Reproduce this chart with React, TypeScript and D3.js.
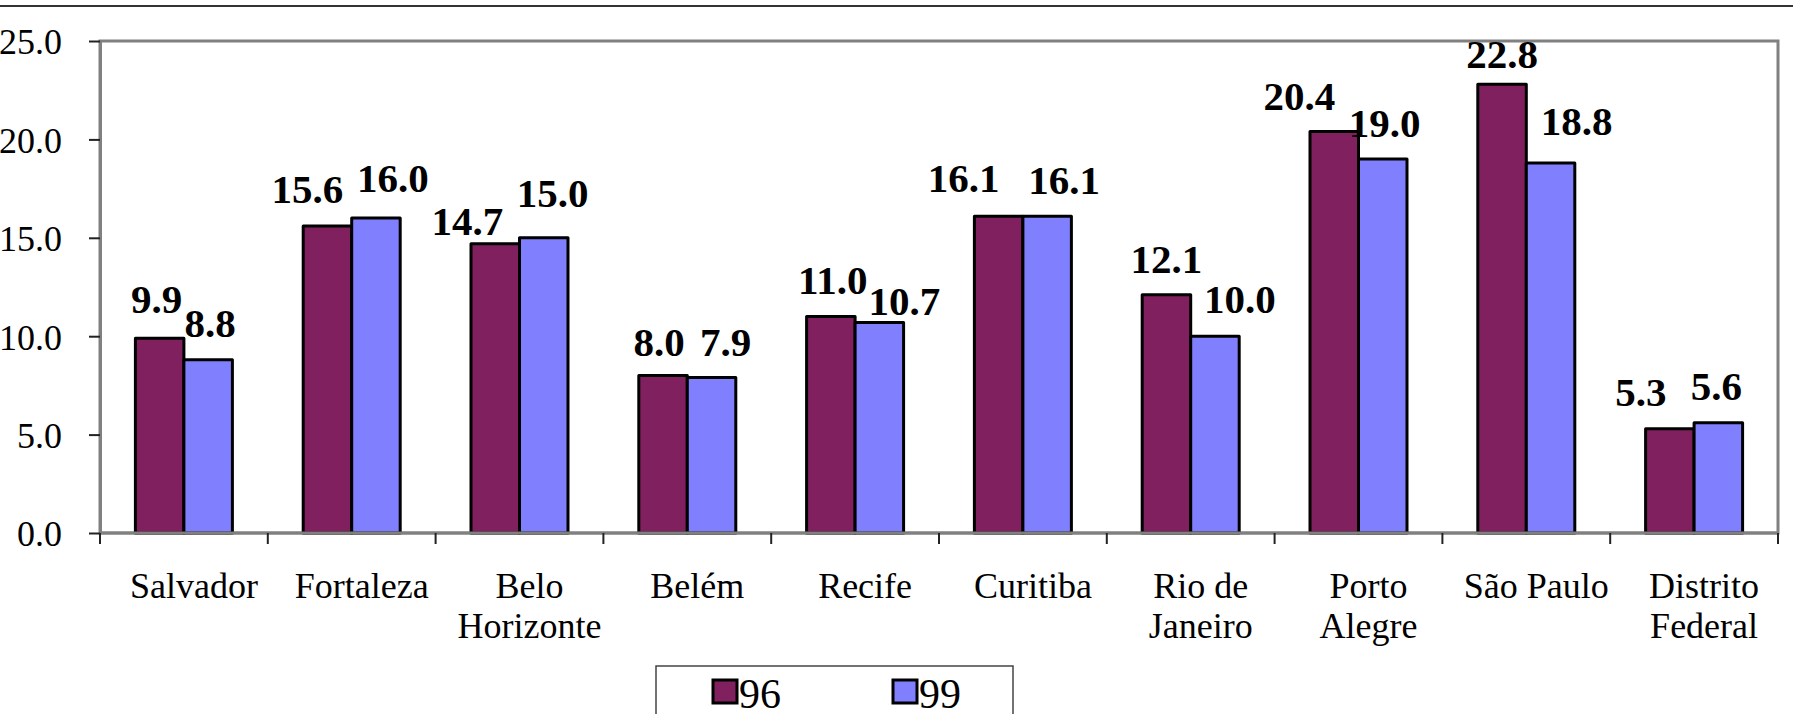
import React, { useRef, useEffect } from 'react';
import * as d3 from 'd3';

// categories (line breaks in labels marked with \n)
const cities = [
  'Salvador',
  'Fortaleza',
  'Belo\nHorizonte',
  'Belém',
  'Recife',
  'Curitiba',
  'Rio de\nJaneiro',
  'Porto\nAlegre',
  'São Paulo',
  'Distrito\nFederal',
];
const seriesNames = ['96', '99'];
const values96 = [9.9, 15.6, 14.7, 8.0, 11.0, 16.1, 12.1, 20.4, 22.8, 5.3];
const values99 = [8.8, 16.0, 15.0, 7.9, 10.7, 16.1, 10.0, 19.0, 18.8, 5.6];
const yTicks = [0, 5, 10, 15, 20, 25];

// hand placed data labels in the original (px shift from bar centre, px above bar top)
const labelDx96 = [-3, -20, -28, -4, 2, -35, 0, -35, 0, -29];
const labelGap96 = [25, 23, 9, 20, 23, 24, 22, 22, 16, 23];
const labelDx99 = [2, 17, 9, 14, 25, 17, 25, 2, 26, -2];
const labelGap99 = [23, 26, 31, 22, 7, 22, 23, 22, 28, 23];

const WIDTH = 1793;
const HEIGHT = 714;
const FONT = '"Liberation Serif", "Times New Roman", serif';
const COLORS = ['#80205F', '#8080FF'];

export default function App() {
  const svgRef = useRef<SVGSVGElement>(null);

  useEffect(() => {
    if (!svgRef.current) return;
    const svg = d3.select(svgRef.current);
    svg.selectAll('*').remove();

    const margin = { top: 41, right: 15, bottom: 181, left: 100 };
    const plotW = WIDTH - margin.left - margin.right;
    const plotH = HEIGHT - margin.top - margin.bottom;

    const x = d3.scaleBand().domain(cities).range([0, plotW]).padding(0);
    const xs = d3
      .scaleBand()
      .domain(seriesNames)
      .range([0, x.bandwidth()])
      .paddingInner(0)
      .paddingOuter(0.73);
    const y = d3.scaleLinear().domain([0, 25]).range([plotH, 0]);

    // rule across the top of the page
    svg
      .append('line')
      .attr('x1', 0)
      .attr('x2', WIDTH)
      .attr('y1', 6)
      .attr('y2', 6)
      .attr('stroke', '#333')
      .attr('stroke-width', 2);

    const g = svg.append('g').attr('transform', `translate(${margin.left},${margin.top})`);

    // plot area border
    g.append('rect')
      .attr('x', 0)
      .attr('y', 0)
      .attr('width', plotW)
      .attr('height', plotH)
      .attr('fill', 'white')
      .attr('stroke', '#808080')
      .attr('stroke-width', 3);

    const series = [values96, values99];
    const dxs = [labelDx96, labelDx99];
    const gaps = [labelGap96, labelGap99];

    series.forEach((vals, si) => {
      const name = seriesNames[si];
      g.append('g')
        .selectAll('rect')
        .data(vals)
        .enter()
        .append('rect')
        .attr('x', (d, i) => (x(cities[i]) || 0) + (xs(name) || 0))
        .attr('y', d => y(d))
        .attr('width', xs.bandwidth())
        .attr('height', d => plotH - y(d))
        .attr('fill', COLORS[si])
        .attr('stroke', '#000')
        .attr('stroke-width', 3)
        .attr('stroke-linejoin', 'round');
    });

    // y axis
    const yAxis = g
      .append('g')
      .call(
        d3
          .axisLeft(y)
          .tickValues(yTicks)
          .tickFormat(d3.format('.1f'))
          .tickSize(11)
          .tickSizeOuter(0)
          .tickPadding(27)
      );
    yAxis.select('.domain').attr('stroke', '#808080').attr('stroke-width', 3);
    yAxis.selectAll('.tick line').attr('stroke', '#222').attr('stroke-width', 2);
    yAxis
      .selectAll('.tick text')
      .attr('font-family', FONT)
      .attr('font-size', 36)
      .attr('fill', '#000')
      .attr('dy', '0.36em');

    // x axis line and boundary ticks
    g.append('line')
      .attr('x1', 0)
      .attr('x2', plotW)
      .attr('y1', plotH)
      .attr('y2', plotH)
      .attr('stroke', '#808080')
      .attr('stroke-width', 3);

    const bounds = [...cities.map(c => x(c) || 0), plotW];
    g.append('g')
      .selectAll('line')
      .data(bounds)
      .enter()
      .append('line')
      .attr('x1', d => d)
      .attr('x2', d => d)
      .attr('y1', plotH)
      .attr('y2', plotH + 11)
      .attr('stroke', '#222')
      .attr('stroke-width', 2);

    // category labels
    const catLabels = g
      .append('g')
      .selectAll('text')
      .data(cities)
      .enter()
      .append('text')
      .attr('x', d => (x(d) || 0) + x.bandwidth() / 2 + 10)
      .attr('y', plotH + 65)
      .attr('text-anchor', 'middle')
      .attr('font-family', FONT)
      .attr('font-size', 36)
      .attr('fill', '#000');
    catLabels.each(function (d) {
      const t = d3.select(this);
      const cx = t.attr('x');
      d.split('\n').forEach((line, li) => {
        t.append('tspan')
          .attr('x', cx)
          .attr('dy', li === 0 ? 0 : 40)
          .text(line);
      });
    });

    // data labels
    series.forEach((vals, si) => {
      const name = seriesNames[si];
      g.append('g')
        .selectAll('text')
        .data(vals)
        .enter()
        .append('text')
        .attr(
          'x',
          (d, i) => (x(cities[i]) || 0) + (xs(name) || 0) + xs.bandwidth() / 2 + dxs[si][i]
        )
        .attr('y', (d, i) => y(d) - gaps[si][i])
        .attr('text-anchor', 'middle')
        .attr('font-family', FONT)
        .attr('font-size', 41)
        .attr('font-weight', 'bold')
        .attr('fill', '#000')
        .text(d => d.toFixed(1));
    });

    // legend
    const legend = svg.append('g').attr('transform', 'translate(656,666)');
    legend
      .append('rect')
      .attr('x', 0)
      .attr('y', 0)
      .attr('width', 357)
      .attr('height', 70)
      .attr('fill', 'white')
      .attr('stroke', '#444')
      .attr('stroke-width', 1.5);
    const legendX = [57, 237];
    seriesNames.forEach((name, si) => {
      legend
        .append('rect')
        .attr('x', legendX[si])
        .attr('y', 14)
        .attr('width', 24)
        .attr('height', 23)
        .attr('fill', COLORS[si])
        .attr('stroke', '#000')
        .attr('stroke-width', 3);
      legend
        .append('text')
        .attr('x', legendX[si] + 26)
        .attr('y', 42)
        .attr('font-family', FONT)
        .attr('font-size', 42)
        .attr('fill', '#000')
        .text(name);
    });
  }, []);

  return (
    <svg
      ref={svgRef}
      width={WIDTH}
      height={HEIGHT}
      style={{ position: 'absolute', left: 0, top: 0, background: 'white' }}
    />
  );
}
